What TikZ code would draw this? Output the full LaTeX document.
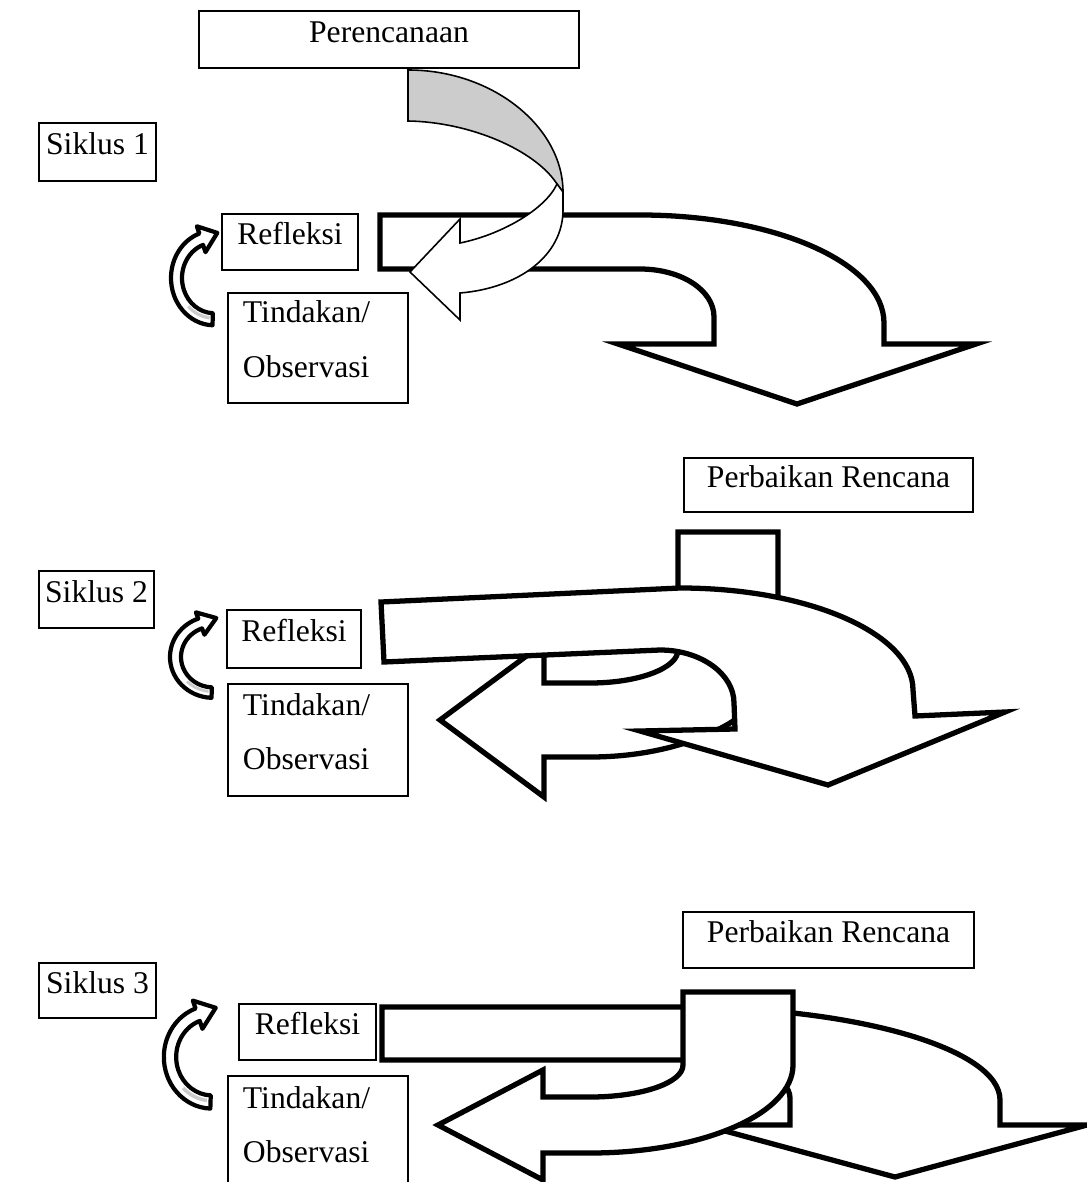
\documentclass[tikz,border=0pt]{standalone}
\usepackage{fontspec}
\setmainfont{Liberation Serif}
\usetikzlibrary{calc}

\tikzset{
  kotak/.style={draw, line width=1.2pt, inner sep=0pt, anchor=north west,
    font=\fontsize{18}{22}\selectfont, text height=13pt, text depth=10pt},
  kotakdua/.style={draw, line width=1.2pt, inner xsep=8.5pt, inner ysep=0pt,
    anchor=north west, align=left, text width=85.4pt,
    font=\fontsize{18}{31}\selectfont},
  panah/.style={draw=black, fill=white, line width=3pt, line join=miter},
  pita/.style={draw=black, line width=0.9pt, line join=miter},
  putar/.pic={
    \filldraw[fill=white, line width=2.4pt, line join=round]
      (92:43) arc (92:250:43) -- (250:50) -- (3.3,-41) -- (250:25)
      -- (250:32) arc (250:92:32) -- cycle;
    \fill[gray!40] (97:38) arc (97:135:38) -- (135:35) arc (135:97:35) -- cycle;
  }
}

\begin{document}
\begin{tikzpicture}[x=0.02cm, y=-0.02cm]
  \useasboundingbox (0,0) rectangle (1087,1182);

  % ---------- Siklus 1 ----------
  \node[kotak, minimum width=7.6cm, minimum height=1.14cm] (plan) at (198,10) {Perencanaan};
  \node[kotak, minimum width=2.34cm, minimum height=1.16cm] (s1) at (38,122) {Siklus 1};
  \node[kotak, minimum width=2.72cm, minimum height=1.12cm] (r1) at (221,213) {Refleksi};
  \node[kotakdua, minimum height=2.2cm] (t1) at (227,292) {Tindakan/\\Observasi\rule[-10pt]{0pt}{0pt}};

  % panah besar ke bawah
  \draw[panah] (380,215) -- (640,215) .. controls (775,215) and (884,263) .. (884,323)
    -- (884,344) -- (976,344) -- (797,404) -- (618,344) -- (714,344) -- (714,317)
    .. controls (714,290) and (681,269) .. (640,269) -- (380,269) -- cycle;

  % pita melengkung dari perencanaan
  \filldraw[pita, fill=gray!40] (408,70) .. controls (494,70) and (563,128) .. (563,192)
    -- (557,184) .. controls (535,150) and (470,122) .. (408,121) -- cycle;
  \filldraw[pita, fill=white] (563,192) -- (563,210) .. controls (563,255) and (520,288) .. (460,293)
    -- (460,320) -- (410,272) -- (460,219) -- (460,243)
    .. controls (500,235) and (545,210) .. (557,184) -- cycle;

  % panah putar kecil
  \pic[yscale=1.1] at (214,278) {putar};

  % ---------- Siklus 2 ----------
  \node[kotak, minimum width=5.78cm, minimum height=1.08cm] (pr2) at (683,457) {Perbaikan Rencana};
  \node[kotak, minimum width=2.3cm, minimum height=1.14cm] (s2) at (38,570) {Siklus 2};
  \node[kotak, minimum width=2.68cm, minimum height=1.16cm] (r2) at (226,609) {Refleksi};
  \node[kotakdua, minimum height=2.24cm] (t2) at (227,683) {Tindakan/\\Observasi\rule[-10pt]{0pt}{0pt}};

  % panah ke kiri (dari perbaikan rencana)
  \draw[panah] (678,532) -- (778,532) -- (778,655) .. controls (778,711) and (694,757) .. (590,757)
    -- (544,757) -- (544,797) -- (440,720) -- (544,643) -- (544,683) -- (590,683)
    .. controls (639,683) and (678,668) .. (678,650) -- cycle;

  % panah besar ke bawah
  \draw[panah] (381,602) -- (680,588) .. controls (809,588) and (913,634) .. (913,690)
    -- (915,716) -- (1005,712) -- (828,785) -- (640,731) -- (735,729) -- (734,703)
    .. controls (734,674) and (701,650) .. (660,650) -- (384,662) -- cycle;

  \pic[yscale=0.95] at (213,657) {putar};

  % ---------- Siklus 3 ----------
  \node[kotak, minimum width=5.82cm, minimum height=1.12cm] (pr3) at (682,911) {Perbaikan Rencana};
  \node[kotak, minimum width=2.34cm, minimum height=1.1cm] (s3) at (38,962) {Siklus 3};
  \node[kotak, minimum width=2.74cm, minimum height=1.12cm] (r3) at (238,1003) {Refleksi};
  \node[kotakdua, minimum height=2.3cm] (t3) at (227,1075) {Tindakan/\\Observasi\rule[-10pt]{0pt}{0pt}};

  % panah besar ke bawah
  \draw[panah] (382,1007) -- (680,1007) .. controls (857,1007) and (1000,1049) .. (1000,1100)
    -- (1000,1125) -- (1087,1125) -- (895,1177) -- (703,1125) -- (790,1125) -- (790,1098)
    .. controls (790,1077) and (750,1060) .. (700,1060) -- (382,1060) -- cycle;

  % panah ke kiri (dari perbaikan rencana)
  \draw[panah] (683,992) -- (793,992) -- (793,1065) .. controls (793,1114) and (702,1153) .. (590,1153)
    -- (543,1153) -- (543,1180) -- (438,1125) -- (543,1070) -- (543,1097) -- (590,1097)
    .. controls (641,1097) and (683,1083) .. (683,1065) -- cycle;

  \pic[xscale=1.12, yscale=1.2] at (212,1057) {putar};
\end{tikzpicture}
\end{document}
